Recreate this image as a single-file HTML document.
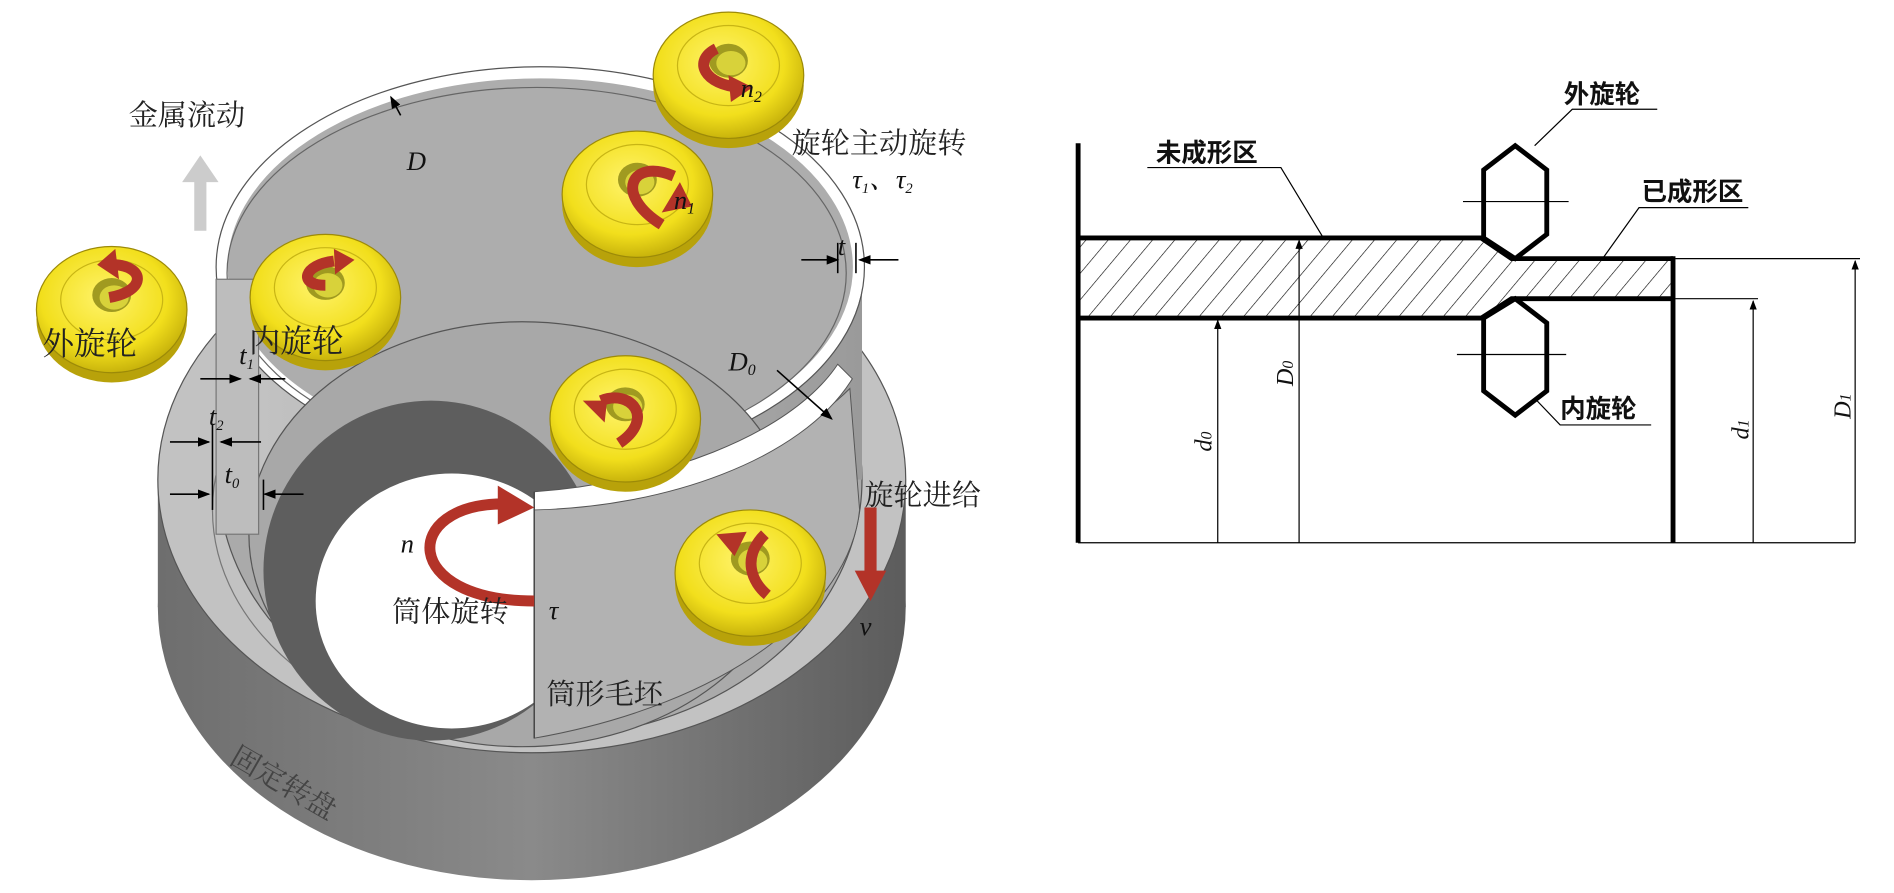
<!DOCTYPE html>
<html><head><meta charset="utf-8"><style>
html,body{margin:0;padding:0;background:#fff;}
svg{display:block;}
text{font-family:"Liberation Serif","Noto Serif CJK SC",serif;}
.cn text{font-family:"Liberation Sans","Noto Sans CJK SC",sans-serif;}
</style></head><body>
<svg width="1894" height="893" viewBox="0 0 1560 735.5" xmlns="http://www.w3.org/2000/svg">
<defs>
<linearGradient id="side" x1="0" x2="1" y1="0" y2="0">
<stop offset="0" stop-color="#6e6e6e"/><stop offset="0.5" stop-color="#8a8a8a"/><stop offset="1" stop-color="#5c5c5c"/></linearGradient>
<linearGradient id="wall" x1="0" x2="1" y1="0" y2="0">
<stop offset="0" stop-color="#c4c4c4"/><stop offset="0.6" stop-color="#b0b0b0"/><stop offset="1" stop-color="#9a9a9a"/></linearGradient>
<radialGradient id="yel" cx="0.45" cy="0.4" r="0.6"><stop offset="0" stop-color="#fff36a"/><stop offset="0.7" stop-color="#f2df1c"/><stop offset="1" stop-color="#c9b40c"/></radialGradient>
<marker id="ah" markerWidth="8" markerHeight="8" refX="7" refY="4" orient="auto"><path d="M0,1 L8,4 L0,7Z" fill="#000"/></marker>
<pattern id="hatch" width="14" height="14" patternUnits="userSpaceOnUse" patternTransform="rotate(40)"><line x1="0" y1="0" x2="0" y2="14" stroke="#000" stroke-width="1"/></pattern>
<g id="wheel">
<ellipse cx="0" cy="8" rx="62" ry="52" fill="#b8a20a"/>
<ellipse cx="0" cy="0" rx="62" ry="52" fill="url(#yel)" stroke="#9c8a08" stroke-width="1"/>
<ellipse cx="0" cy="-8" rx="42" ry="33" fill="none" stroke="#c8b514" stroke-width="1"/>
<ellipse cx="0" cy="-12" rx="16" ry="14" fill="#a09a20"/>
<ellipse cx="2" cy="-10" rx="12" ry="10" fill="#d8d23a"/>
</g>
</defs>
<rect width="1560" height="735.5" fill="#fff"/>
<!-- base disk -->
<ellipse cx="438" cy="500" rx="308" ry="225" fill="url(#side)"/>
<rect x="130" y="395" width="616" height="105" fill="url(#side)"/>
<ellipse cx="438" cy="395" rx="308" ry="225" fill="#c2c2c2" stroke="#555" stroke-width="1"/>
<ellipse cx="430" cy="420" rx="255" ry="190" fill="none" stroke="#777" stroke-width="1"/>
<!-- blank cylinder -->
<ellipse cx="445" cy="395" rx="265" ry="213" fill="#aaaaaa" stroke="#555"/>
<rect x="180" y="220" width="530" height="175" fill="url(#wall)"/>
<line x1="180" y1="220" x2="180" y2="400" stroke="#555"/>
<ellipse cx="445" cy="220" rx="262" ry="160" fill="#adadad" stroke="#fff" stroke-width="9"/>
<ellipse cx="445" cy="220" rx="267" ry="165" fill="none" stroke="#555" stroke-width="1"/>
<ellipse cx="442" cy="225" rx="255" ry="153" fill="none" stroke="#666" stroke-width="1"/>
<!-- inner layer -->
<ellipse cx="430" cy="440" rx="225" ry="175" fill="#a8a8a8" stroke="#555"/>
<ellipse cx="355" cy="470" rx="138" ry="140" fill="#5e5e5e"/>
<ellipse cx="372" cy="495" rx="112" ry="105" fill="#fff"/>
<path d="M440,410 C550,405 650,370 700,320 L708,420 C700,500 600,580 440,608 Z" fill="#b2b2b2" stroke="#555" stroke-width="0.8"/>
<path d="M440,405 C540,398 650,360 690,300 L702,312 C660,380 545,418 440,420 Z" fill="#fff" stroke="#555" stroke-width="0.8"/>
<line x1="440" y1="405" x2="440" y2="608" stroke="#444" stroke-width="1.2"/>
<rect x="178" y="230" width="35" height="210" fill="#bdbdbd" stroke="#777"/>
<!-- wheels -->
<use href="#wheel" x="92" y="255"/>
<use href="#wheel" x="268" y="245"/>
<use href="#wheel" x="525" y="160"/>
<use href="#wheel" x="600" y="62"/>
<use href="#wheel" x="515" y="345"/>
<use href="#wheel" x="618" y="472"/>
<!-- red arrows -->
<g fill="none" stroke="#b33328" stroke-width="9">
<path d="M90,245 C120,240 120,220 95,218"/>
<path d="M268,235 C245,235 250,218 275,215"/>
<path d="M555,145 C520,130 505,160 545,185"/>
<path d="M590,40 C570,50 580,70 610,72"/>
<path d="M495,330 C520,320 540,345 510,365"/>
<path d="M630,440 C610,460 620,480 632,490"/>
<path d="M415,415 C330,415 330,495 440,495"/>
</g>
<g fill="#b33328">
<path d="M95,205 L80,218 L98,230Z"/><path d="M275,205 L292,214 L276,226Z"/>
<path d="M545,175 L560,150 L570,170Z"/><path d="M600,62 L620,72 L602,84Z"/>
<path d="M500,330 L480,330 L498,348Z"/><path d="M590,440 L605,458 L615,438Z"/>
<path d="M410,400 L440,418 L410,432Z"/>
<path d="M712,418 L722,418 L722,470 L730,470 L717,495 L704,470 L712,470Z"/>
</g>
<path d="M160,190 L160,150 L150,150 L165,128 L180,150 L170,150 L170,190Z" fill="#ccc"/>
<!-- dims left -->
<g stroke="#000" stroke-width="1.3" fill="none">
<line x1="330" y1="95" x2="322" y2="80" marker-end="url(#ah)"/>
<line x1="640" y1="305" x2="685" y2="345" marker-end="url(#ah)"/>
<line x1="660" y1="214" x2="690" y2="214" marker-end="url(#ah)"/>
<line x1="740" y1="214" x2="708" y2="214" marker-end="url(#ah)"/>
<line x1="690" y1="200" x2="690" y2="225"/><line x1="705" y1="200" x2="705" y2="225"/>
<line x1="165" y1="312" x2="198" y2="312" marker-end="url(#ah)"/>
<line x1="235" y1="312" x2="206" y2="312" marker-end="url(#ah)"/>
<line x1="140" y1="364" x2="172" y2="364" marker-end="url(#ah)"/>
<line x1="215" y1="364" x2="182" y2="364" marker-end="url(#ah)"/>
<line x1="140" y1="407" x2="172" y2="407" marker-end="url(#ah)"/>
<line x1="250" y1="407" x2="218" y2="407" marker-end="url(#ah)"/>
<line x1="175" y1="350" x2="175" y2="420"/><line x1="217" y1="395" x2="217" y2="420"/>
</g>
<!-- labels left -->
<g font-size="24" fill="#222">
<text x="106" y="103">金属流动</text>
<text x="652" y="126">旋轮主动旋转</text>
<text x="35" y="292" font-size="26">外旋轮</text>
<text x="205" y="290" font-size="26">内旋轮</text>
<text x="712" y="416">旋轮进给</text>
<text x="323" y="512">筒体旋转</text>
<text x="450" y="580">筒形毛坯</text>
<text x="0" y="0" transform="translate(188,628) rotate(30)" fill="#444">固定转盘</text>
</g>
<g font-style="italic" font-size="22" fill="#111">
<text x="335" y="140">D</text>
<text x="600" y="305">D<tspan font-size="13" dy="4">0</tspan></text>
<text x="690" y="210">t</text>
<text x="702" y="155">τ<tspan font-size="12" dy="4">1</tspan><tspan dy="-4">、τ</tspan><tspan font-size="12" dy="4">2</tspan></text>
<text x="610" y="80">n<tspan font-size="13" dy="4">2</tspan></text>
<text x="555" y="172">n<tspan font-size="13" dy="4">1</tspan></text>
<text x="330" y="455">n</text>
<text x="452" y="510">τ</text>
<text x="708" y="523">v</text>
<text x="197" y="300">t<tspan font-size="12" dy="4">1</tspan></text>
<text x="172" y="350">t<tspan font-size="12" dy="4">2</tspan></text>
<text x="185" y="398">t<tspan font-size="12" dy="4">0</tspan></text>
</g>
<!-- right diagram -->
<path d="M888,196 L1220,196 L1245,213 L1378,213 L1378,246 L1245,246 L1220,262 L888,262Z" fill="url(#hatch)"/>
<g stroke="#000" stroke-width="4" fill="none">
<line x1="888" y1="118" x2="888" y2="447"/>
<path d="M888,196 L1220,196 L1245,213 L1378,213"/>
<path d="M888,262 L1220,262 L1245,246 L1378,246"/>
<line x1="1378" y1="211" x2="1378" y2="447"/>
<path d="M1222,196 L1222,140 L1248,120 L1274,140 L1274,193 L1248,213 Z"/>
<path d="M1222,262 L1222,322 L1248,342 L1274,322 L1274,266 L1248,246 Z"/>
</g>
<g stroke="#000" stroke-width="1" fill="none">
<line x1="888" y1="447" x2="1528" y2="447"/>
<line x1="1205" y1="166" x2="1292" y2="166"/>
<line x1="1200" y1="292" x2="1290" y2="292"/>
<line x1="1003" y1="447" x2="1003" y2="264" marker-end="url(#ah)"/>
<line x1="1070" y1="447" x2="1070" y2="198" marker-end="url(#ah)"/>
<line x1="1444" y1="447" x2="1444" y2="248" marker-end="url(#ah)"/>
<line x1="1528" y1="447" x2="1528" y2="215" marker-end="url(#ah)"/>
<line x1="1380" y1="213" x2="1532" y2="213"/>
<line x1="1380" y1="246" x2="1448" y2="246"/>
<path d="M1090,196 L1055,138 L945,138"/>
<path d="M1264,120 L1295,90 L1365,90"/>
<path d="M1320,213 L1350,171 L1440,171"/>
<path d="M1264,328 L1285,350 L1360,350"/>
</g>
<g class="cn" font-size="21" font-weight="bold" fill="#111">
<text x="952" y="133">未成形区</text>
<text x="1288" y="85">外旋轮</text>
<text x="1352" y="165">已成形区</text>
<text x="1285" y="344">内旋轮</text>
</g>
<g font-style="italic" font-size="20" fill="#111">
<text transform="translate(998,372) rotate(-90)">d<tspan font-size="13">0</tspan></text>
<text transform="translate(1065,318) rotate(-90)">D<tspan font-size="13">0</tspan></text>
<text transform="translate(1440,362) rotate(-90)">d<tspan font-size="13">1</tspan></text>
<text transform="translate(1524,345) rotate(-90)">D<tspan font-size="13">1</tspan></text>
</g>
</svg>
</body></html>
